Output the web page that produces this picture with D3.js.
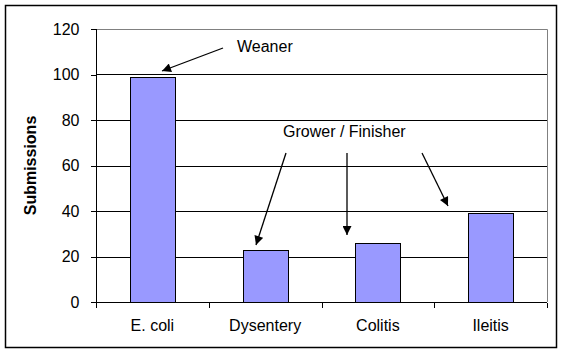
<!DOCTYPE html>
<html lang="en">
<head>
<meta charset="UTF-8">
<title>Submissions</title>
<script src="https://cdn.jsdelivr.net/npm/d3@7"></script>
<style>
    body { margin: 0; background: #fff; }
    .axis text { font-family: 'Liberation Sans', Arial, sans-serif; font-size: 16px; fill: #000; }
    .axis path, .axis line { stroke: #000; shape-rendering: crispEdges; }
    .nota { font-family: 'Liberation Sans', Arial, sans-serif; font-size: 16px; fill: #000; }
    .rotulo { font-family: 'Liberation Sans', Arial, sans-serif; font-size: 16px; font-weight: bold; fill: #000; }
</style>
</head>
<body>
<div id="grafico"></div>
<script>
var categorias = ["E. coli", "Dysentery", "Colitis", "Ileitis"];
var valores = [99, 23, 26, 39];
var ticksY = [0, 20, 40, 60, 80, 100, 120];

var w = 564, h = 354;
var izq = 96, der = 547, arriba = 29, abajo = 302;

var svg = d3.select("#grafico").append("svg")
    .attr("width", w)
    .attr("height", h);

// marco exterior
svg.append("rect")
    .attr("x", 5.5).attr("y", 5.5)
    .attr("width", 551).attr("height", 342)
    .attr("fill", "#fff")
    .attr("stroke", "#000")
    .attr("stroke-width", 1.5);

var xScale = d3.scaleBand()
    .domain(categorias)
    .range([izq, der])
    .paddingInner(0.6)
    .paddingOuter(0.3);

var yScale = d3.scaleLinear()
    .domain([0, 120])
    .range([abajo, arriba]);

// lineas de la grilla
svg.selectAll(".grid")
    .data(ticksY.filter(function(d){ return d > 0 && d < 120; }))
    .enter().append("line")
    .attr("x1", izq).attr("x2", der)
    .attr("y1", function(d){ return Math.round(yScale(d)) + 0.5; })
    .attr("y2", function(d){ return Math.round(yScale(d)) + 0.5; })
    .attr("stroke", "#000");

// borde gris del area
svg.append("path")
    .attr("d", "M" + izq + "," + (arriba + 0.5) + "H" + (der + 0.5) + "V" + abajo)
    .attr("fill", "none")
    .attr("stroke", "#808080");

// barras
svg.selectAll(".barra")
    .data(valores)
    .enter().append("rect")
    .attr("class", "barra")
    .attr("x", function(d, i){ return Math.round(xScale(categorias[i])) + 0.5; })
    .attr("y", function(d){ return Math.round(yScale(d)) + 0.5; })
    .attr("width", Math.round(xScale.bandwidth()))
    .attr("height", function(d){ return Math.round(yScale(0)) - Math.round(yScale(d)); })
    .attr("fill", "#9999ff")
    .attr("stroke", "#000");

// eje Y
var yAxis = d3.axisLeft(yScale).tickValues(ticksY).tickSize(6).tickPadding(11);
svg.append("g")
    .attr("class", "axis")
    .attr("transform", "translate(" + (izq + 0.5) + ",0)")
    .call(yAxis)
    .call(function(g){ g.select(".domain").attr("d", "M0," + arriba + "V" + abajo); });

// eje X: marcas en los limites de cada categoria
var xLimites = d3.scaleLinear().domain([0, categorias.length]).range([izq, der]);
var xAxis = d3.axisBottom(xLimites).ticks(categorias.length).tickSize(5).tickFormat("");
svg.append("g")
    .attr("class", "axis")
    .attr("transform", "translate(0," + (abajo + 0.5) + ")")
    .call(xAxis)
    .call(function(g){ g.select(".domain").attr("d", "M" + izq + ",0H" + der); });

svg.selectAll(".cat")
    .data(categorias)
    .enter().append("text")
    .attr("class", "nota")
    .attr("x", function(d){ return xScale(d) + xScale.bandwidth() / 2; })
    .attr("y", 331)
    .attr("text-anchor", "middle")
    .text(function(d){ return d; });

// titulo del eje
svg.append("text")
    .attr("class", "rotulo")
    .attr("transform", "translate(36," + ((arriba + abajo) / 2) + ") rotate(-90)")
    .attr("text-anchor", "middle")
    .text("Submissions");

// flechas
svg.append("defs").append("marker")
    .attr("id", "punta")
    .attr("viewBox", "0 0 10 10")
    .attr("refX", 10).attr("refY", 5)
    .attr("markerWidth", 11).attr("markerHeight", 9)
    .attr("markerUnits", "userSpaceOnUse")
    .attr("orient", "auto")
    .append("path")
    .attr("d", "M0,0L10,5L0,10Z")
    .attr("fill", "#000");

svg.append("text").attr("class", "nota").attr("x", 237).attr("y", 52).text("Weaner");
svg.append("text").attr("class", "nota").attr("x", 283).attr("y", 137).text("Grower / Finisher");

var flechas = [
    [223, 48, 162, 71],
    [286, 153, 256, 245],
    [347, 153, 347, 235],
    [422, 153, 448, 206]
];
svg.selectAll(".flecha")
    .data(flechas)
    .enter().append("line")
    .attr("x1", function(d){ return d[0]; })
    .attr("y1", function(d){ return d[1]; })
    .attr("x2", function(d){ return d[2]; })
    .attr("y2", function(d){ return d[3]; })
    .attr("stroke", "#000")
    .attr("stroke-width", 1.3)
    .attr("marker-end", "url(#punta)");
</script>
</body>
</html>
